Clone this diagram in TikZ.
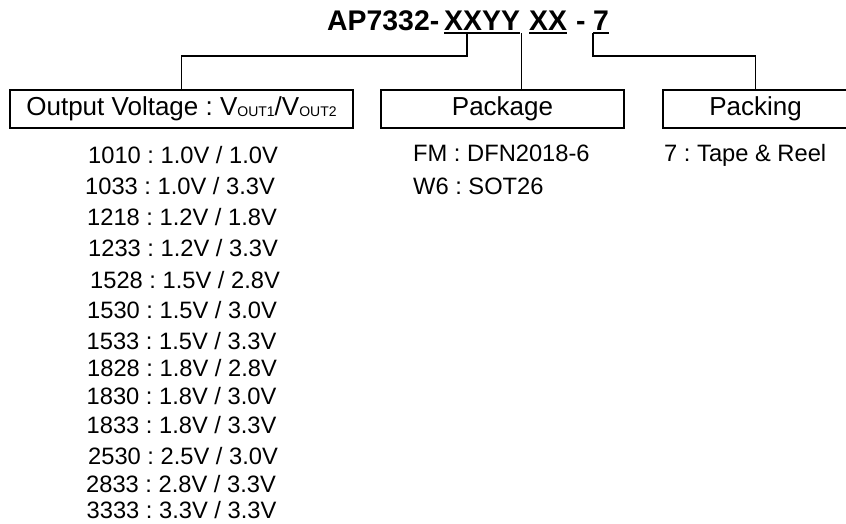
\documentclass[tikz,border=0pt]{standalone}
\usepackage{fontspec}
\setmainfont{Liberation Sans}
\usepackage{tikz}
\frenchspacing
\tikzstyle{ttl}=[inner sep=0,anchor=base west,font=\fontsize{28.4}{32}\selectfont\bfseries]
\tikzstyle{lbl}=[inner sep=0,anchor=base west,font=\fontsize{23.7}{28}\selectfont]
\tikzstyle{bx}=[draw,line width=1.3pt,inner sep=0,minimum height=38pt,font=\fontsize{26}{30}\selectfont]
\tikzstyle{ln}=[line width=1.3pt]
\newcommand{\vsub}[1]{\raisebox{-1pt}{\fontsize{14}{14}\selectfont #1}}

\begin{document}
\begin{tikzpicture}[x=1pt,y=-1pt]
\useasboundingbox (0,0) rectangle (846,523);

                        % part number
                        \node[ttl] (t0) at (327,30) {AP7332-};
                        \node[ttl] (t1) at (444,30) {XXYY};
                        \node[ttl] (t2) at (529,30) {XX};
                        \node[ttl] (t3) at (576,30) {-};
                        \node[ttl] (t4) at (593,30) {7};
                        \draw[line width=2pt] ([yshift=-3pt]t1.base west) -- ([yshift=-3pt]t1.base east);
                        \draw[line width=2pt] ([yshift=-3pt]t2.base west) -- ([yshift=-3pt]t2.base east);
                        \draw[line width=2pt] ([yshift=-3pt]t4.base west) -- ([yshift=-3pt]t4.base east);

                        \coordinate (ua) at ([xshift=23pt,yshift=-3pt]t1.base west);
                        \coordinate (ub) at ([xshift=1pt,yshift=-3pt]t1.base east);
                        \coordinate (uc) at ([yshift=-3pt]t4.base west);

                        % boxes
                        \node[bx,minimum width=343pt] (vb) at (181.5,109) {Output Voltage : V\vsub{OUT1}/V\vsub{OUT2}};
                        \node[bx,minimum width=243pt] (pb) at (502.5,109) {Package};
                        \node[bx,minimum width=185pt] (kb) at (755.5,109) {Packing};

                        \draw[ln]
                        (ua) -- ++(0,23) -| (vb.north)
                        (ub) -- (ub |- pb.north)
                        (uc) -- ++(0,23) -| (kb.north)
                        ;

                        % output voltage codes
                        \node[lbl] (v1) at (88,163.5) {1010 : 1.0V / 1.0V};
                        \node[lbl] (v2) at (85,194) {1033 : 1.0V / 3.3V};
                        \node[lbl] (v3) at (87,225) {1218 : 1.2V / 1.8V};
                        \node[lbl] (v4) at (88,256) {1233 : 1.2V / 3.3V};
                        \node[lbl] (v5) at (90,288) {1528 : 1.5V / 2.8V};
                        \node[lbl] (v6) at (87,318) {1530 : 1.5V / 3.0V};
                        \node[lbl] (v7) at (86.5,349) {1533 : 1.5V / 3.3V};
                        \node[lbl] (v8) at (87,376) {1828 : 1.8V / 2.8V};
                        \node[lbl] (v9) at (86.5,404) {1830 : 1.8V / 3.0V};
                        \node[lbl] (v10) at (86.5,433) {1833 : 1.8V / 3.3V};
                        \node[lbl] (v11) at (88,464.5) {2530 : 2.5V / 3.0V};
                        \node[lbl] (v12) at (86,492) {2833 : 2.8V / 3.3V};
                        \node[lbl] (v13) at (86.5,518.5) {3333 : 3.3V / 3.3V};

                        % package codes
                        \node[lbl] (f1) at (413,161.5) {FM : DFN2018-6};
                        \node[lbl] (f2) at (413,194.5) {W6 : SOT26};

                        % packing codes
                        \node[lbl] (r1) at (664,161) {7 : Tape \& Reel};

    \end{tikzpicture}
\end{document}
